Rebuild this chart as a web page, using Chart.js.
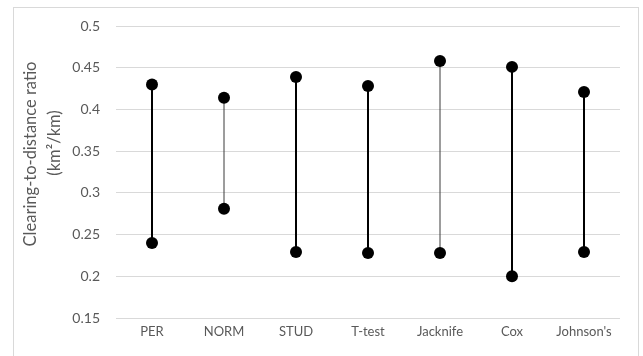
<!DOCTYPE html>
<html>
<head>
<meta charset="utf-8">
<script src="https://cdn.jsdelivr.net/npm/chart.js@4/dist/chart.umd.min.js"></script>
<style>
  html, body { margin: 0; padding: 0; background: #fff; }
  #wrap { position: relative; width: 643px; height: 356px; overflow: hidden; }
  #frame { position: absolute; left: 13px; top: 7px; width: 626px; height: 360px; border: 1px solid #d9d9d9; box-sizing: border-box; }
  #c { position: absolute; left: 0; top: 0; }
</style>
</head>
<body>
<div id="wrap">
  <div id="frame"></div>
  <canvas id="c" width="643" height="356"></canvas>
</div>
<script>
// Interval end-points per estimation method
const categories = ['PER', 'NORM', 'STUD', 'T-test', 'Jacknife', 'Cox', "Johnson's"];
const lowValues  = [0.240, 0.281, 0.229, 0.228, 0.228, 0.200, 0.229];
const highValues = [0.430, 0.414, 0.439, 0.428, 0.458, 0.451, 0.421];
const yTicks     = [0.15, 0.2, 0.25, 0.3, 0.35, 0.4, 0.45, 0.5];

// Methods drawn with a hairline stem
const thinStems = ['NORM', 'Jacknife'];

const FONT = 'Lato, "Liberation Sans", sans-serif';
const TEXT = '#595959';
const GRID = '#d9d9d9';

const datasets = categories.map((cat, i) => {
  const thin = thinStems.includes(cat);
  return {
    label: cat,
    data: [{ x: cat, y: lowValues[i] }, { x: cat, y: highValues[i] }],
    borderColor: thin ? '#3a3a3a' : '#000',
    borderWidth: thin ? 1 : 2,
    pointRadius: 6,
    pointHoverRadius: 6,
    pointBackgroundColor: '#000',
    pointBorderColor: '#000',
    pointBorderWidth: 0,
    clip: false
  };
});

// Two-line rotated axis title
const axisTitle = {
  id: 'axisTitle',
  afterDraw(chart) {
    const ctx = chart.ctx;
    ctx.save();
    ctx.fillStyle = TEXT;
    ctx.font = '16.5px ' + FONT;
    ctx.textAlign = 'center';
    ctx.textBaseline = 'middle';
    const lines = [
      { text: 'Clearing-to-distance ratio', x: 31, y: 154 },
      { text: '(km\u00B2/km)', x: 55, y: 143 }
    ];
    lines.forEach(l => {
      ctx.save();
      ctx.translate(l.x, l.y);
      ctx.rotate(-Math.PI / 2);
      ctx.fillText(l.text, 0, 0);
      ctx.restore();
    });
    ctx.restore();
  }
};

new Chart(document.getElementById('c'), {
  type: 'line',
  data: { labels: categories, datasets },
  plugins: [axisTitle],
  options: {
    responsive: false,
    animation: false,
    events: [],
    layout: { padding: { top: 26, right: 23, left: 0, bottom: 0 } },
    plugins: { legend: { display: false }, tooltip: { enabled: false } },
    scales: {
      x: {
        type: 'category',
        offset: true,
        grid: { display: false, drawTicks: false },
        border: { display: false },
        ticks: { color: TEXT, font: { family: FONT, size: 13 }, padding: 6, maxRotation: 0, autoSkip: false },
        afterFit: s => { s.height = 38; }
      },
      y: {
        min: 0.15,
        max: 0.5,
        afterBuildTicks: s => { s.ticks = yTicks.map(v => ({ value: v })); },
        grid: { color: GRID, lineWidth: 1, drawTicks: false },
        border: { display: false },
        ticks: {
          color: TEXT,
          font: { family: FONT, size: 14 },
          padding: 16,
          callback: v => String(Number(v.toFixed(2)))
        },
        afterFit: s => { s.width = 116; }
      }
    }
  }
});
</script>
</body>
</html>
